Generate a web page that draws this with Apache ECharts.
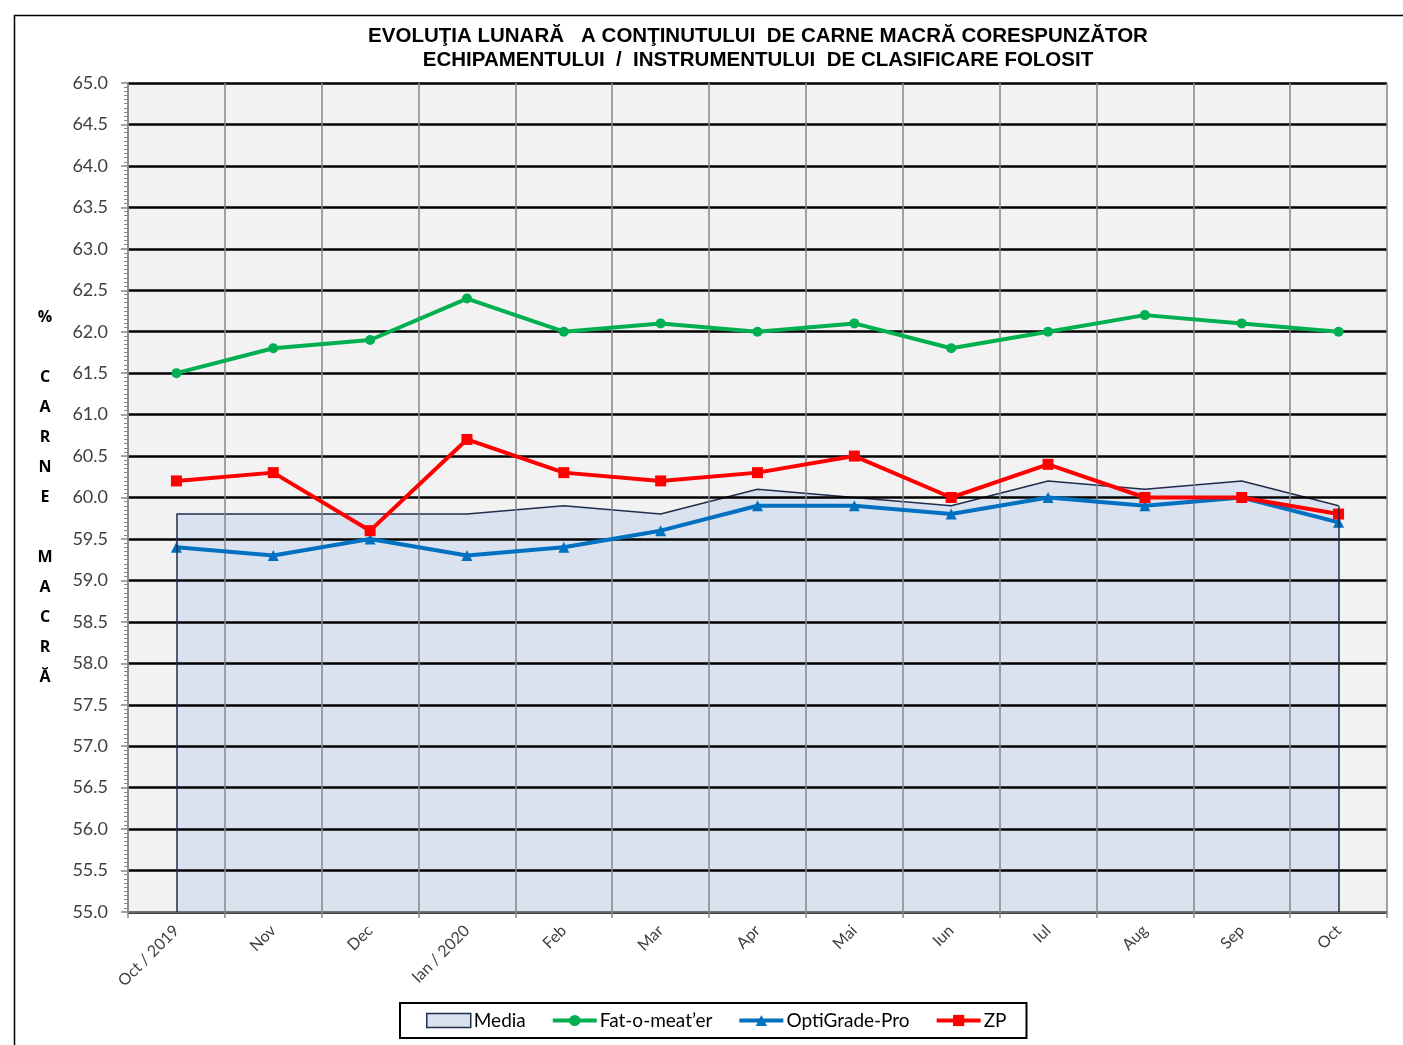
<!DOCTYPE html>
<html>
<head>
<meta charset="utf-8">
<script src="https://cdn.jsdelivr.net/npm/echarts@6/dist/echarts.min.js"></script>
<style>
html,body{margin:0;padding:0;background:#fff;}
#chart{width:1403px;height:1045px;}
</style>
</head>
<body>
<div id="chart"></div>
<script>
const categories = ['Oct / 2019','Nov','Dec','Ian / 2020','Feb','Mar','Apr','Mai','Iun','Iul','Aug','Sep','Oct'];
const media      = [59.8, 59.8, 59.8, 59.8, 59.9, 59.8, 60.1, 60.0, 59.9, 60.2, 60.1, 60.2, 59.9];
const fatOMeater = [61.5, 61.8, 61.9, 62.4, 62.0, 62.1, 62.0, 62.1, 61.8, 62.0, 62.2, 62.1, 62.0];
const optiGrade  = [59.4, 59.3, 59.5, 59.3, 59.4, 59.6, 59.9, 59.9, 59.8, 60.0, 59.9, 60.0, 59.7];
const zp         = [60.2, 60.3, 59.6, 60.7, 60.3, 60.2, 60.3, 60.5, 60.0, 60.4, 60.0, 60.0, 59.8];
const yMin = 55.0, yMax = 65.0, yStep = 0.5;
const titleText = 'EVOLUŢIA LUNARĂ   A CONŢINUTULUI  DE CARNE MACRĂ CORESPUNZĂTOR\nECHIPAMENTULUI  /  INSTRUMENTULUI  DE CLASIFICARE FOLOSIT';
const yName = '%\n\nC\nA\nR\nN\nE\n\nM\nA\nC\nR\nĂ';

const chart = echarts.init(document.getElementById('chart'), null, {renderer:'canvas'});
const lastIdx = categories.length - 1;
const option = {
  animation: false,
  backgroundColor: '#ffffff',
  title: {
    text: titleText,
    left: 753, top: 19, textAlign: 'center',
    textStyle: {fontFamily: 'Liberation Sans', fontWeight: 'bold', fontSize: 20.5, lineHeight: 24, color: '#000'}
  },
  graphic: [{
    type: 'rect', left: 12, top: 13, z: -10, silent: true,
    shape: {width: 1440, height: 1080},
    style: {fill: 'none', stroke: '#000', lineWidth: 1.5}
  }],
  grid: {left: 128, right: 16, top: 83, bottom: 133, show: true, z: -2, backgroundColor: '#f2f2f2', borderWidth: 0},
  legend: {
    left: 400, top: 1003,
    data: [
      {name: 'Media', icon: 'rect', itemStyle: {color: '#dae1ef', borderColor: '#1f2e4d', borderWidth: 1.5}},
      {name: 'Fat-o-meat\u2019er', lineStyle: {width: 4}},
      {name: 'OptiGrade-Pro', lineStyle: {width: 4}},
      {name: 'ZP', lineStyle: {width: 4}}
    ],
    itemWidth: 44, itemHeight: 14, itemGap: 25,
    padding: [8, 20, 8, 26],
    borderColor: '#000', borderWidth: 2,
    textStyle: {fontFamily: 'Lato', fontSize: 19, color: '#000', padding: [0,0,0,-2]}
  },
  xAxis: {
    type: 'category', data: categories, boundaryGap: true,
    axisLine: {lineStyle: {color: '#868686', width: 1.5}},
    axisTick: {show: true, interval: 0, length: 6, lineStyle: {color: '#868686', width: 1.5}},
    splitLine: {show: true, interval: 0, lineStyle: {color: '#868686', width: 1.5}},
    axisLabel: {interval: 0, rotate: 45, margin: 16, fontFamily: 'Lato', fontSize: 16, color: '#404040'}
  },
  yAxis: {
    type: 'value', min: yMin, max: yMax, interval: yStep,
    name: yName, nameLocation: 'middle', nameRotate: 0, nameGap: 83,
    nameTextStyle: {fontFamily: 'Open Sans', fontWeight: 'bold', fontSize: 16, lineHeight: 30, color: '#000', align: 'center', padding: [10, 0, 0, 0]},
    axisLine: {show: true, lineStyle: {color: '#868686', width: 1.5}},
    axisTick: {show: true, length: 7, lineStyle: {color: '#868686', width: 1.5}},
    minorTick: {show: true, splitNumber: 10, length: 4, lineStyle: {color: '#868686', width: 1}},
    splitLine: {show: true, lineStyle: {color: '#000', width: 2.5}},
    axisLabel: {margin: 20, fontFamily: 'Lato', fontSize: 18, color: '#404040', formatter: v => v.toFixed(1)}
  },
  series: [
    {
      name: 'Media', type: 'line', data: media, z: -1,
      symbol: 'none', showSymbol: false,
      lineStyle: {color: '#1f2e4d', width: 1.5},
      itemStyle: {color: '#dae1ef', borderColor: '#1f2e4d'},
      areaStyle: {color: '#dae1ef', opacity: 1, origin: 'start'},
      markLine: {
        silent: true, symbol: 'none', label: {show: false},
        lineStyle: {color: '#1f2e4d', width: 1.5, type: 'solid'},
        data: [
          [{coord: [categories[0], yMin]}, {coord: [categories[0], media[0]]}],
          [{coord: [categories[lastIdx], yMin]}, {coord: [categories[lastIdx], media[lastIdx]]}]
        ]
      }
    },
    {
      name: 'Fat-o-meat\u2019er', type: 'line', data: fatOMeater, z: 3,
      symbol: 'circle', symbolSize: 10,
      lineStyle: {color: '#00b050', width: 4},
      itemStyle: {color: '#00b050'}
    },
    {
      name: 'OptiGrade-Pro', type: 'line', data: optiGrade, z: 3,
      symbol: 'triangle', symbolSize: 11,
      lineStyle: {color: '#0070c0', width: 4},
      itemStyle: {color: '#0070c0'}
    },
    {
      name: 'ZP', type: 'line', data: zp, z: 4,
      symbol: 'rect', symbolSize: 11,
      lineStyle: {color: '#ff0000', width: 4},
      itemStyle: {color: '#ff0000'}
    }
  ]
};
chart.setOption(option);
</script>
</body>
</html>
